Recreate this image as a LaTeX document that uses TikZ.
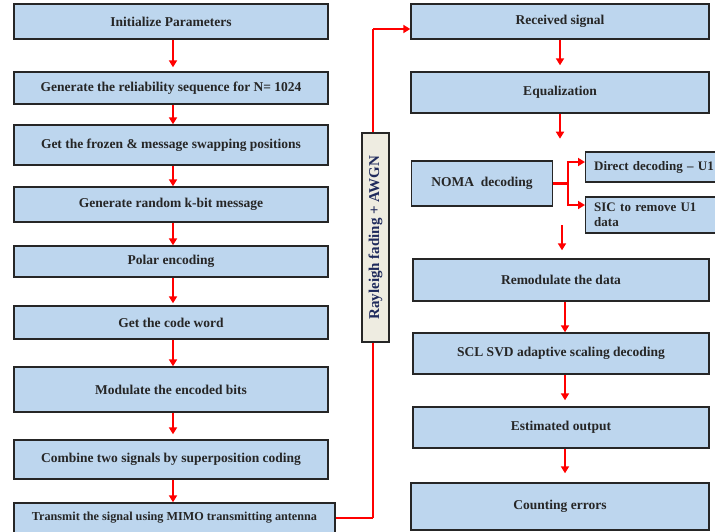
\documentclass[tikz,border=0pt]{standalone}
\usepackage{fontspec}
\setmainfont{Liberation Serif}
\usetikzlibrary{arrows.meta}
\definecolor{boxblue}{HTML}{BDD6EE}
\definecolor{beigebox}{HTML}{EEECE1}
\definecolor{navytext}{HTML}{1F2A5C}
\begin{document}
\begin{tikzpicture}[x=1pt,y=-1pt,
 box/.style={draw=black!85, line width=1.4pt, fill=boxblue, inner sep=0pt,
   font=\bfseries\fontsize{13.5}{15}\selectfont, text=black!85},
 sidebox/.style={box, anchor=west, align=left, inner xsep=8.5pt, text width=136pt, minimum width=153pt,
   font=\bfseries\fontsize{13}{15}\selectfont},
 arr/.style={red, line width=1.8pt, -{Triangle[width=8pt,length=7pt]}},
 redline/.style={red, line width=2.2pt},
]
\useasboundingbox (0,0) rectangle (715,531);

% left column
\node[box, minimum width=314, minimum height=35] (l1) at (171,21.5) {Initialize Parameters};
\node[box, minimum width=314, minimum height=32] (l2) at (171,88) {Generate the reliability sequence for N= 1024};
\node[box, minimum width=314, minimum height=40] (l3) at (171,145) {Get the frozen \& message swapping positions};
\node[box, minimum width=314, minimum height=35] (l4) at (171,204.5) {Generate random k-bit message};
\node[box, minimum width=314, minimum height=31] (l5) at (171,261.5) {Polar encoding};
\node[box, minimum width=314, minimum height=33] (l6) at (171,322.5) {Get the code word};
\node[box, minimum width=314, minimum height=45] (l7) at (171,389.5) {Modulate the encoded bits};
\node[box, minimum width=314, minimum height=39] (l8) at (171,459.5) {Combine two signals by superposition coding};
\node[box, minimum width=321, minimum height=30, font=\bfseries\fontsize{12.2}{14}\selectfont] (l9) at (174.5,518) {Transmit the signal using MIMO transmitting antenna};

% channel
\node[draw=black!85, line width=1.4pt, fill=beigebox, minimum width=27, minimum height=209,
  inner sep=0pt, font=\bfseries\fontsize{15}{17}\selectfont, text=navytext] (ray) at (375.5,237.5) {\rotatebox{90}{Rayleigh fading + AWGN}};

% right column
\node[box, minimum width=298, minimum height=35] (r1) at (560,21.5) {Received signal};
\node[box, minimum width=298, minimum height=41] (r2) at (560,92.5) {Equalization};
\node[box, minimum width=141, minimum height=45] (noma) at (482,183.5) {NOMA\ \ decoding};
\node[sidebox, minimum height=30] (dd) at (585,167) {Direct decoding -- U1};
\node[sidebox, minimum height=36] (sic) at (585,215) {SIC to remove U1\\data};
\node[box, minimum width=296, minimum height=42] (r4) at (561,280) {Remodulate the data};
\node[box, minimum width=296, minimum height=41] (r5) at (561,353.5) {SCL SVD adaptive scaling decoding};
\node[box, minimum width=296, minimum height=41] (r6) at (561,427.5) {Estimated output};
\node[box, minimum width=298, minimum height=47] (r7) at (560,506.5) {Counting errors};

% left arrows
\draw[arr, shorten >=4pt] ([xshift=2pt]l1.south) -- ([xshift=2pt]l2.north);
\draw[arr] ([xshift=2pt]l2.south) -- ([xshift=2pt]l3.north);
\draw[arr] ([xshift=2pt]l3.south) -- ([xshift=2pt]l4.north);
\draw[arr] ([xshift=2pt]l4.south) -- ([xshift=2pt]l5.north);
\draw[arr, shorten >=2pt] ([xshift=2pt]l5.south) -- ([xshift=2pt]l6.north);
\draw[arr] ([xshift=2pt]l6.south) -- ([xshift=2pt]l7.north);
\draw[arr, shorten >=5pt] ([xshift=2pt]l7.south) -- ([xshift=2pt]l8.north);
\draw[arr] ([xshift=2pt]l8.south) -- ([xshift=2pt]l8.south |- l9.north);

% channel connectors
\coordinate (rb) at ([xshift=-2.5pt]ray.south);
\coordinate (rt) at ([xshift=-2.5pt]ray.north);
\coordinate (c1) at (rb |- l9.east);
\coordinate (c2) at ([yshift=-7.5pt]r1.west);
\coordinate (c3) at (rt |- c2);
\draw[redline] (l9.east) -- (c1);
\draw[redline] (c1) -- (rb);
\draw[redline] (rt) -- (c3);
\draw[arr] (c3) -- (c2);

% right arrows
\draw[arr, shorten >=6pt] (r1.south) -- (r2.north);
\draw[arr] (r2.south) -- ++(0,25) coordinate (eqend);
\draw[red, line width=3pt] (noma.east) -- ++(15,0) coordinate (br);
\draw[arr] (br) |- ([yshift=5pt]dd.west);
\draw[arr] (br) |- ([yshift=10pt]sic.west);
\coordinate (fa) at (562,225);
\draw[arr, shorten >=8pt] (fa) -- (fa |- r4.north);
\draw[arr] ([xshift=4pt]r4.south) -- ([xshift=4pt]r5.north);
\draw[arr, shorten >=6pt] ([xshift=4pt]r5.south) -- ([xshift=4pt]r6.north);
\draw[arr, shorten >=9pt] ([xshift=4pt]r6.south) -- ([xshift=4pt]r6.south |- r7.north);
\end{tikzpicture}
\end{document}
